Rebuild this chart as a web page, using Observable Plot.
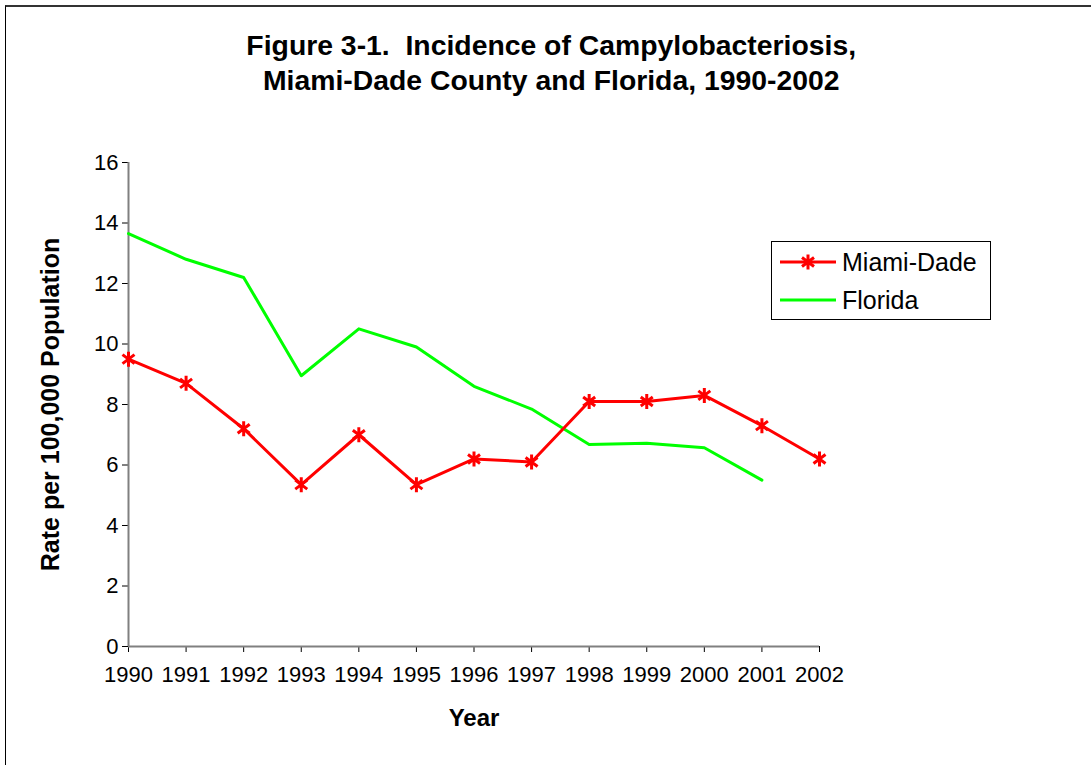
<!DOCTYPE html>
<html>
<head>
<meta charset="utf-8">
<script src="https://cdn.jsdelivr.net/npm/d3@7"></script>
<script src="https://cdn.jsdelivr.net/npm/@observablehq/plot@0.6"></script>
<style>
  html, body { margin: 0; padding: 0; background: #fff; overflow: hidden; }
  body { width: 1091px; height: 765px; position: relative; font-family: "Liberation Sans", Arial, sans-serif; }
  #frame { position: absolute; left: 5px; top: 5px; width: 2000px; height: 2000px;
           border-top: 2px solid #333; border-left: 1px solid #000; box-sizing: border-box; }
  #chart { position: absolute; left: 0; top: 0; }
  #title { position: absolute; left: 6px; top: 29px; width: 1091px; text-align: center;
           font-weight: bold; font-size: 27px; line-height: 35px; color: #000;
           transform: scaleX(1.05); transform-origin: 551px 0; }
  #legend { position: absolute; left: 771px; top: 241px; width: 220px; height: 79px;
            border: 1px solid #000; box-sizing: border-box; background: #fff; }
  #legend .lbl { position: absolute; left: 70px; font-size: 25px; line-height: 25px; color: #000; }
  #legend svg { position: absolute; left: 0; top: 0; }
</style>
</head>
<body>
<div id="frame"></div>
<div id="chart"></div>
<div id="title">Figure 3-1.&nbsp; Incidence of Campylobacteriosis,<br>Miami-Dade County and Florida, 1990-2002</div>
<div id="legend"></div>
<script>
const years = [1990, 1991, 1992, 1993, 1994, 1995, 1996, 1997, 1998, 1999, 2000, 2001, 2002];
const miamiDade = [9.5, 8.7, 7.2, 5.35, 7.0, 5.35, 6.2, 6.1, 8.1, 8.1, 8.3, 7.3, 6.2];
const florida = [13.65, 12.8, 12.2, 8.95, 10.5, 9.9, 8.6, 7.85, 6.68, 6.72, 6.57, 5.5];
const yTicks = [0, 2, 4, 6, 8, 10, 12, 14, 16];
const seriesNames = ["Miami-Dade", "Florida"];
const seriesColors = ["#FF0000", "#00FF00"];
const yLabel = "Rate per 100,000 Population";
const xLabel = "Year";

const mdData = years.map((y, i) => ({year: y, value: miamiDade[i]}));
const flData = florida.map((v, i) => ({year: years[i], value: v}));

const star = {
  draw(ctx, size) {
    const r = Math.sqrt(size / Math.PI);
    ctx.moveTo(0, -r); ctx.lineTo(0, r);
    ctx.moveTo(-r * 0.8, -r * 0.6); ctx.lineTo(r * 0.8, r * 0.6);
    ctx.moveTo(-r * 0.8, r * 0.6); ctx.lineTo(r * 0.8, -r * 0.6);
  }
};

const plot = Plot.plot({
  width: 1091,
  height: 765,
  marginLeft: 128,
  marginRight: 272,
  marginTop: 162,
  marginBottom: 119,
  style: {fontFamily: '"Liberation Sans", Arial, sans-serif', background: "transparent", color: "#000"},
  x: {domain: [1990, 2002]},
  y: {domain: [0, 16]},
  marks: [
    Plot.axisY({ticks: yTicks, tickSize: 6, tickPadding: 4, fontSize: 22, label: null, stroke: "#000"}),
    Plot.axisX({ticks: years, tickFormat: "d", tickSize: 6, tickPadding: 14, fontSize: 22, label: null, stroke: "#000"}),
    Plot.ruleX([1990], {stroke: "#808080", strokeWidth: 2}),
    Plot.ruleY([0], {stroke: "#808080", strokeWidth: 2}),
    Plot.line(flData, {x: "year", y: "value", stroke: seriesColors[1], strokeWidth: 3}),
    Plot.line(mdData, {x: "year", y: "value", stroke: seriesColors[0], strokeWidth: 3}),
    Plot.dot(mdData, {x: "year", y: "value", symbol: star, r: 7.5, stroke: seriesColors[0], strokeWidth: 3}),
    Plot.text([yLabel], {frameAnchor: "left", dx: -78, rotate: -90, fontSize: 25, fontWeight: "bold", textAnchor: "middle", lineAnchor: "middle", fill: "#000"}),
    Plot.text([xLabel], {frameAnchor: "bottom", dy: 72, fontSize: 24, fontWeight: "bold", textAnchor: "middle", lineAnchor: "middle", fill: "#000"})
  ]
});
document.getElementById("chart").appendChild(plot);

// Legend
const legend = document.getElementById("legend");
const ns = "http://www.w3.org/2000/svg";
const lsvg = document.createElementNS(ns, "svg");
lsvg.setAttribute("width", 218);
lsvg.setAttribute("height", 77);
const rowsY = [20, 58];
seriesNames.forEach((name, i) => {
  const ln = document.createElementNS(ns, "line");
  ln.setAttribute("x1", 8); ln.setAttribute("x2", 64);
  ln.setAttribute("y1", rowsY[i]); ln.setAttribute("y2", rowsY[i]);
  ln.setAttribute("stroke", seriesColors[i]); ln.setAttribute("stroke-width", 3);
  lsvg.appendChild(ln);
  if (i === 0) {
    const p = document.createElementNS(ns, "path");
    const r = 7.5, cx = 36, cy = rowsY[i];
    p.setAttribute("d", `M${cx},${cy - r}L${cx},${cy + r}M${cx - r*0.8},${cy - r*0.6}L${cx + r*0.8},${cy + r*0.6}M${cx - r*0.8},${cy + r*0.6}L${cx + r*0.8},${cy - r*0.6}`);
    p.setAttribute("stroke", seriesColors[i]); p.setAttribute("stroke-width", 3);
    lsvg.appendChild(p);
  }
  const t = document.createElement("div");
  t.className = "lbl";
  t.style.top = (rowsY[i] - 12) + "px";
  t.textContent = name;
  legend.appendChild(t);
});
legend.appendChild(lsvg);
</script>
</body>
</html>
